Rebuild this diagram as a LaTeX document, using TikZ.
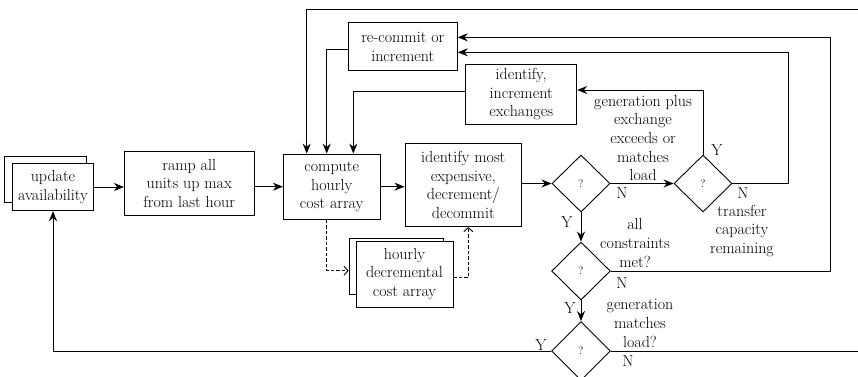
\documentclass[tikz,border=0pt]{standalone}
\usetikzlibrary{arrows.meta,shapes.geometric}
\begin{document}
\begin{tikzpicture}[x=1pt,y=-1pt,line width=0.9pt,
  font=\fontsize{16}{18.7}\selectfont,
  box/.style={draw,rectangle,fill=white,align=center,inner sep=0pt},
  dia/.style={draw,diamond,inner sep=0pt,font=\fontsize{11}{12}\selectfont},
  lbl/.style={align=center,inner sep=0pt},
  arr/.style={-{Stealth[length=10pt,width=8pt]}},
  darr/.style={dashed,dash pattern=on 3.5pt off 2pt,-{Straight Barb[length=4pt,width=9pt]}}]
\useasboundingbox (0,0) rectangle (858,376);
% boxes
\node[box,minimum width=81.3pt,minimum height=46pt] (uback) at (45.35,179) {};
\node[box,minimum width=80.6pt,minimum height=47.4pt] (upd) at (53,187) {update\\availability};
\node[box,minimum width=129.7pt,minimum height=63.3pt] (ramp) at (189.2,183.3) {ramp all\\units up max\\from last hour};
\node[box,minimum width=96.7pt,minimum height=65.3pt] (comp) at (331.7,186.7) {compute\\hourly\\cost array};
\node[box,minimum width=116.7pt,minimum height=83.3pt] (ident) at (463.3,185) {identify most\\expensive,\\decrement/\\decommit};
\node[box,minimum width=109pt,minimum height=48pt] (recom) at (402.8,46.7) {re-commit or\\increment};
\node[box,minimum width=111pt,minimum height=59.7pt] (exch) at (521.2,94.2) {identify,\\increment\\exchanges};
\node[box,minimum width=94pt,minimum height=56pt] (hback) at (396,266) {};
\node[box,minimum width=97pt,minimum height=66pt] (hour) at (404.5,274) {hourly\\decremental\\cost array};
% diamonds
\node[dia,minimum width=58pt,minimum height=57pt] (d1) at (581,183.5) {?};
\node[dia,minimum width=58pt,minimum height=57pt] (d2) at (703,183.5) {?};
\node[dia,minimum width=58.7pt,minimum height=58pt] (d3) at (581,271) {?};
\node[dia,minimum width=58.7pt,minimum height=59pt] (d4) at (581,351) {?};
% coordinates
\coordinate (c2) at (788,52.3);
\coordinate (c3) at (830,37.3);
\coordinate (tE) at (858,9);
\coordinate (rE) at (858,351);
% main flow
\draw[arr] (upd.east) -- (upd.east -| ramp.west);
\draw[arr] (comp.west -| ramp.east) -- (comp.west);
\draw[arr] (comp.east) -- (comp.east -| ident.west);
\draw[arr] (d1.west -| ident.east) -- (d1.west);
\draw[arr] (d1.east) -- (d2.west);
\draw[arr] (d1.south) -- (d3.north);
\draw[arr] (d3.south) -- (d4.north);
\draw[arr] (d2.north) |- ([yshift=4.2pt]exch.east);
\draw[arr] (d2.east) -| (c2) -- (c2 -| recom.east);
\draw[arr] (d3.east) -| (c3) -- (c3 -| recom.east);
\draw (d4.east) -- (rE);
\draw[arr] (tE) -| ([xshift=-25pt]comp.north);
\draw[arr] ([yshift=-2.6pt]recom.west) -| ([xshift=-5pt]comp.north);
\draw[arr] ([yshift=2.5pt]exch.west) -| ([xshift=21.6pt]comp.north);
\draw[arr] (d4.west) -| (upd.south);
% dashed
\draw[darr] ([xshift=-5pt]comp.south) |- ([yshift=-4.7pt]hback.west);
\draw[darr] ([yshift=-3.7pt]hour.east) -| ([xshift=5pt]ident.south);
% labels
\node[lbl] (ly2) at (717,150) {Y};
\node[lbl] (lgen) at (643,138) {generation plus\\exchange\\exceeds or\\matches\\load};
\node[lbl] (ln1) at (622,193) {N};
\node[lbl] (ln2) at (743,193) {N};
\node[lbl] (ltr) at (742,231) {transfer\\capacity\\remaining};
\node[lbl] (ly1) at (567,222) {Y};
\node[lbl] (lall) at (635,243) {all\\constraints\\met?};
\node[lbl] (ln3) at (622,283) {N};
\node[lbl] (ly3) at (570,308) {Y};
\node[lbl] (lgm) at (640,323.5) {generation\\matches\\load?};
\node[lbl] (ln4) at (628,361) {N};
\node[lbl] (ly4) at (541,345) {Y};
\end{tikzpicture}
\end{document}
